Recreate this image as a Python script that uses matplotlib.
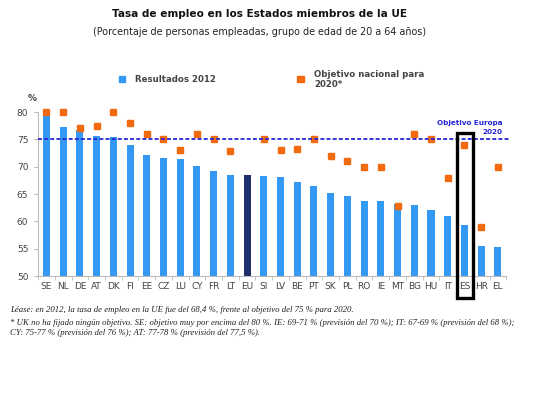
import matplotlib
matplotlib.use("Agg")
import matplotlib.pyplot as plt
from matplotlib.patches import Rectangle
import numpy as np

countries = ["SE", "NL", "DE", "AT", "DK", "FI", "EE", "CZ", "LU", "CY", "FR", "LT", "EU", "SI",
             "LV", "BE", "PT", "SK", "PL", "RO", "IE", "MT", "BG", "HU", "IT", "ES", "HR", "EL"]
results_2012 = [79.4, 77.2, 76.7, 75.6, 75.4, 74.0, 72.2, 71.5, 71.4, 70.2, 69.3, 68.5, 68.4, 68.3,
                68.1, 67.2, 66.5, 65.1, 64.7, 63.8, 63.7, 63.1, 63.0, 62.1, 61.0, 59.3, 55.4, 55.3]
targets_2020 = [80, 80, 77, 77.5, 80, 78, 76, 75, 73, 76, 75, 72.8, None, 75,
                73, 73.2, 75, 72, 71, 70, 70, 62.9, 76, 75, 68, 74, 59, 70]
eu_target = 75
yticks = [50, 55, 60, 65, 70, 75, 80]
highlight = "ES"

fig = plt.figure(figsize=(5.6, 3.98), dpi=100)
ax = fig.add_axes([0.068, 0.3065, 0.836, 0.412])

x = np.arange(len(countries))
colors = ["#1c2f6b" if c == "EU" else "#3399f3" for c in countries]
ax.bar(x, [v - 50 for v in results_2012], bottom=50, width=0.42, color=colors, zorder=2)

tx = [i for i, t in enumerate(targets_2020) if t is not None]
ty = [t for t in targets_2020 if t is not None]
ax.plot(tx, ty, linestyle="none", marker="s", markersize=4.3, color="#f26a10", zorder=3,
        clip_on=False)

ax.plot([-0.5, len(countries) - 0.25], [eu_target, eu_target], linestyle=(0, (2.2, 1.2)),
        color="#2626d9", linewidth=1.3, zorder=4, clip_on=False)
ax.text(len(countries) - 0.7, eu_target + 0.8, "Objetivo Europa\n2020", ha="right", va="bottom",
        fontsize=5.2, fontweight="bold", color="#2626d9", linespacing=1.5)

ax.set_xlim(-0.5, len(countries) - 0.5)
ax.set_ylim(50, 80)
ax.set_yticks(yticks)
ax.set_xticks(x)
ax.set_xticklabels(countries)
ax.set_xticks(np.arange(-0.5, len(countries), 1), minor=True)
ax.tick_params(axis="x", which="major", length=0, labelsize=6.5, colors="#444444", pad=4)
ax.tick_params(axis="x", which="minor", length=3, color="#bbbbbb")
ax.tick_params(axis="y", length=3, color="#bbbbbb", labelsize=6.5, labelcolor="#444444", pad=4)
for s in ["top", "right"]:
    ax.spines[s].set_visible(False)
for s in ["left", "bottom"]:
    ax.spines[s].set_color("#bbbbbb")
    ax.spines[s].set_linewidth(0.8)

hi = countries.index(highlight)
rect = Rectangle((hi - 0.46, 46.0), 0.96, 30.2, fill=False, edgecolor="black", linewidth=2.4,
                 zorder=6, clip_on=False)
ax.add_patch(rect)

ax.text(-0.85, 81.6, "%", fontsize=6.5, color="#444444", fontweight="bold", ha="center", va="bottom")

fig.text(0.463, 0.965, "Tasa de empleo en los Estados miembros de la UE", ha="center", va="center",
         fontsize=7.6, fontweight="bold", color="#111111")
fig.text(0.463, 0.92, "(Porcentaje de personas empleadas, grupo de edad de 20 a 64 años)", ha="center",
         va="center", fontsize=6.9, color="#222222")

# legend
fig.patches.append(Rectangle((0.212, 0.793), 0.012, 0.016, transform=fig.transFigure, color="#3399f3"))
fig.text(0.241, 0.801, "Resultados 2012", fontsize=6.2, fontweight="bold", color="#444444", va="center")
fig.patches.append(Rectangle((0.531, 0.793), 0.012, 0.016, transform=fig.transFigure, color="#f26a10"))
fig.text(0.561, 0.801, "Objetivo nacional para\n2020*", fontsize=6.2, fontweight="bold", color="#444444",
         va="center", linespacing=1.15)

foot_kw = dict(fontsize=6.3, style="italic", family="Liberation Serif", color="#222222", va="center")
fig.text(0.018, 0.221, "Léase: en 2012, la tasa de empleo en la UE fue del 68,4 %, frente al objetivo del 75 % para 2020.", **foot_kw)
fig.text(0.018, 0.188, "* UK no ha fijado ningún objetivo. SE: objetivo muy por encima del 80 %. IE: 69-71 % (previsión del 70 %); IT: 67-69 % (previsión del 68 %);", **foot_kw)
fig.text(0.018, 0.163, "CY: 75-77 % (previsión del 76 %); AT: 77-78 % (previsión del 77,5 %).", **foot_kw)

fig.savefig("out.png", dpi=100)
